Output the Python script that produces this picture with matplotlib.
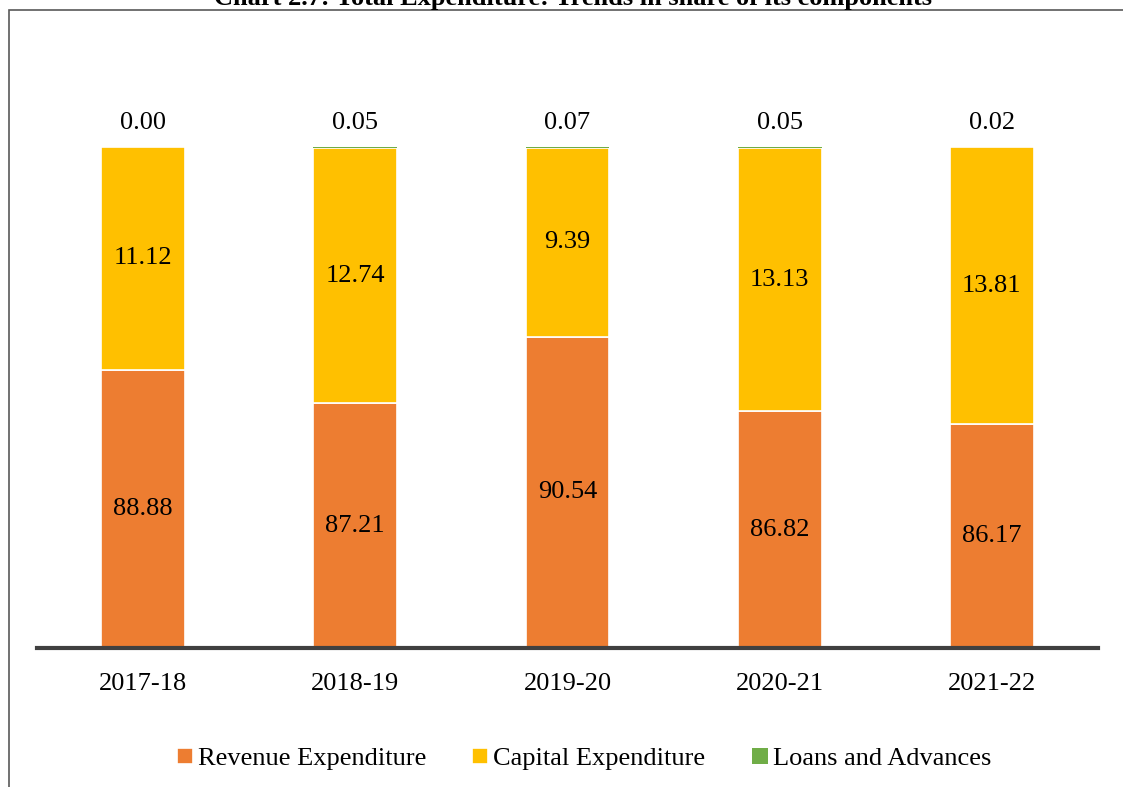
import numpy as np
import matplotlib.pyplot as plt
from matplotlib.patches import Rectangle

years = ['2017-18', '2018-19', '2019-20', '2020-21', '2021-22']
revenue = [88.88, 87.21, 90.54, 86.82, 86.17]
capital = [11.12, 12.74, 9.39, 13.13, 13.81]
loans = [0.00, 0.05, 0.07, 0.05, 0.02]

plt.rcParams['font.family'] = ['Liberation Serif', 'DejaVu Serif']
fs = 19
c_rev = '#ED7D31'
c_cap = '#FFC000'
c_loan = '#70AD47'

W, H = 1123, 787
fig = plt.figure(figsize=(W / 100, H / 100), dpi=100)
ax = fig.add_axes([37 / W, 1 - 648 / H, (1098 - 37) / W, (648 - 147) / H])

x = np.arange(len(years))
rev = np.array(revenue)
cap = np.array(capital)
lo = np.array(loans)
ymin = 75
bw = 0.395

ax.bar(x, rev, bw, color=c_rev, edgecolor='white', linewidth=1.2, label='Revenue Expenditure')
ax.bar(x, cap, bw, bottom=rev, color=c_cap, edgecolor='white', linewidth=1.2, label='Capital Expenditure')
ax.bar(x, lo, bw, bottom=rev + cap, color=c_loan, linewidth=0, label='Loans and Advances')

ax.set_ylim(ymin, 100)
ax.set_xlim(-0.5, len(years) - 0.5)

for i in range(len(years)):
    ax.text(x[i], (ymin + rev[i]) / 2, f'{rev[i]:.2f}', ha='center', va='center', fontsize=fs)
    ax.text(x[i], rev[i] + cap[i] / 2, f'{cap[i]:.2f}', ha='center', va='center', fontsize=fs)
    ax.annotate(f'{lo[i]:.2f}', (x[i], rev[i] + cap[i] + lo[i]), xytext=(0, 17),
                textcoords='offset points', ha='center', va='center', fontsize=fs,
                annotation_clip=False)

for s in ['top', 'right', 'left']:
    ax.spines[s].set_visible(False)
ax.spines['bottom'].set_color('#404040')
ax.spines['bottom'].set_linewidth(3)
ax.set_yticks([])
ax.set_xticks(x)
ax.set_xticklabels(years, fontsize=fs)
ax.tick_params(axis='x', length=0, pad=18)

fig.legend(loc='center', bbox_to_anchor=(0.52, 1 - 759 / H), ncol=3, frameon=False,
           fontsize=fs, handlelength=0.6, handleheight=0.6, handletextpad=0.2,
           columnspacing=1.75)

# outer frame (cut off at right and bottom)
fig.patches.append(Rectangle((8.5 / W, -0.1), 1.2, 1 - 10 / H + 0.1, transform=fig.transFigure,
                             fill=False, edgecolor='#595959', linewidth=1.2))
fig.text(0.51, 1 - 5 / H, 'Chart 2.7: Total Expenditure: Trends in share of its components',
         ha='center', va='baseline', fontsize=fs, fontweight='bold')

fig.savefig('out.png', dpi=100)
